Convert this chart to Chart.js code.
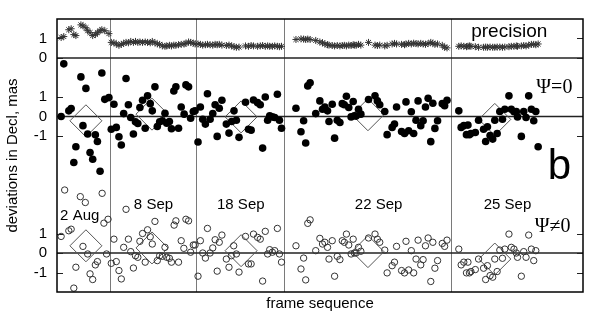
<!DOCTYPE html>
<html>
<head>
<meta charset="utf-8">
<script src="https://cdn.jsdelivr.net/npm/chart.js@4.4.1/dist/chart.umd.min.js"></script>
<style>
  html, body { margin: 0; padding: 0; background: #fff; }
  #wrap { width: 600px; height: 314px; }
</style>
</head>
<body>
<div id="wrap"><canvas id="devChart" width="600" height="314"></canvas></div>
<script>
// nights
var nightNames = ['2 Aug', '8 Sep', '18 Sep', '22 Sep', '25 Sep'];
var nightBreaks = [17.8, 47.0, 77.0, 133.7];

// frames of the Psi=0 solution (precision uses the same frames)
var framesAug2 = [1.4, 2.3, 4.0, 4.8, 5.7, 6.4, 8.1, 8.8, 9.8, 10.4, 11.2, 12.1, 13.0, 13.7, 14.6, 15.2, 16.2, 17.6];
var framesSep8 = [18.4, 19.3, 20.1, 21.0, 21.8, 22.6, 23.4, 24.2, 25.0, 25.9, 26.6, 27.4, 28.1, 29.0, 29.9, 30.7, 31.6, 32.3, 33.2, 34.0, 34.8, 35.7, 36.6, 37.2, 38.1, 38.8, 39.6, 40.3, 41.2, 42.1, 43.1, 43.7, 44.6, 45.3, 46.2, 46.8];
var framesSep18 = [47.8, 48.6, 49.4, 50.3, 51.0, 51.9, 52.8, 53.6, 54.3, 55.0, 55.9, 57.4, 58.3, 59.2, 60.0, 60.8, 61.7, 63.9, 64.9, 65.8, 66.6, 68.0, 68.9, 69.7, 70.6, 71.4, 72.1, 73.0, 73.8, 74.7, 75.4, 76.1];
var framesSep22 = [81.0, 82.7, 83.6, 84.3, 85.0, 85.8, 87.7, 89.1, 90.0, 90.8, 91.7, 92.2, 93.3, 94.1, 95.0, 95.9, 96.7, 97.4, 98.1, 98.9, 99.7, 100.4, 100.8, 101.4, 102.2, 103.0, 105.6, 107.8, 108.6, 109.4, 111.1, 111.9, 113.6, 114.4, 115.1, 116.8, 117.8, 118.3, 119.2, 120.1, 120.9, 121.7, 122.4, 123.3, 124.1, 124.9, 125.8, 126.7, 127.4, 128.1, 129.0, 130.6, 131.4, 132.2];
var framesSep25 = [136.2, 137.0, 137.9, 138.8, 139.3, 139.8, 140.3, 141.8, 142.9, 144.6, 145.3, 145.9, 146.8, 147.7, 148.4, 149.2, 150.1, 151.0, 151.8, 153.2, 154.0, 154.9, 155.7, 156.1, 157.4, 158.2, 159.0, 159.9, 160.8, 161.6, 162.3, 163.1];

// precision, mas
var precAug2 = [1.05, 1.10, 1.45, 1.50, 1.20, 1.15, 1.70, 1.65, 1.55, 1.40, 1.30, 1.15, 1.20, 1.30, 1.40, 1.45, 1.40, 1.25];
var precSep8 = [0.80, 0.78, 0.72, 0.65, 0.70, 0.75, 0.80, 0.78, 0.85, 0.80, 0.85, 0.80, 0.82, 0.80, 0.82, 0.80, 0.78, 0.85, 0.78, 0.72, 0.70, 0.62, 0.60, 0.62, 0.65, 0.62, 0.66, 0.65, 0.68, 0.70, 0.72, 0.75, 0.82, 0.80, 0.76, 0.72];
var precSep18 = [0.72, 0.70, 0.66, 0.68, 0.70, 0.68, 0.66, 0.70, 0.68, 0.70, 0.66, 0.64, 0.66, 0.62, 0.58, 0.55, 0.56, 0.62, 0.60, 0.64, 0.62, 0.60, 0.62, 0.64, 0.60, 0.62, 0.60, 0.60, 0.62, 0.60, 0.58, 0.60];
var precSep22 = [0.95, 0.98, 0.97, 0.95, 0.97, 0.95, 0.90, 0.82, 0.78, 0.72, 0.68, 0.66, 0.64, 0.62, 0.64, 0.62, 0.64, 0.65, 0.62, 0.66, 0.64, 0.68, 0.66, 0.65, 0.70, 0.66, 0.80, 0.66, 0.64, 0.66, 0.62, 0.65, 0.72, 0.75, 0.72, 0.70, 0.68, 0.72, 0.75, 0.72, 0.76, 0.74, 0.72, 0.75, 0.72, 0.70, 0.74, 0.80, 0.76, 0.70, 0.72, 0.65, 0.55, 0.52];
var precSep25 = [0.60, 0.62, 0.60, 0.58, 0.60, 0.62, 0.60, 0.58, 0.55, 0.55, 0.56, 0.55, 0.56, 0.55, 0.55, 0.56, 0.56, 0.55, 0.56, 0.58, 0.60, 0.60, 0.62, 0.60, 0.62, 0.64, 0.62, 0.66, 0.70, 0.70, 0.68, 0.72];

// deviations, Psi=0
var psi0Aug2 = [0.00, 2.70, 0.29, 0.41, -2.36, -1.55, 2.03, -0.47, 1.44, -0.90, -1.85, -2.19, -0.94, -1.28, -2.81, 2.23, 0.88, 0.97];
var psi0Sep8 = [-0.65, 0.63, -0.56, -1.04, -1.46, 0.15, 1.95, 0.60, -0.05, -0.90, -0.27, -0.36, 0.46, 0.83, -0.60, 1.06, 0.66, 0.29, 1.52, -0.51, -0.27, -0.22, 0.17, -0.34, -0.26, -0.63, 1.31, 1.52, -0.60, 0.49, 0.12, 1.62, 1.52, -0.09, 0.26, 0.29];
var psi0Sep18 = [-1.31, 0.49, -0.14, -0.39, 1.17, -0.14, 0.15, 0.60, -1.02, 0.42, 0.83, -0.39, -0.85, -0.26, 0.29, -0.19, -1.07, 0.73, -0.65, -0.70, 0.85, 0.71, 0.60, -1.62, 1.00, -0.19, 0.04, -0.02, -0.05, 1.14, -0.19, -0.60];
var psi0Sep22 = [0.42, -0.78, -0.22, -1.36, 1.57, 1.73, 0.15, 0.80, 0.37, 0.49, 0.29, -0.26, 0.63, -1.11, -0.19, -0.31, 0.66, 0.60, 1.04, 0.46, -0.02, 0.77, 0.04, 0.02, 0.37, 0.12, 0.87, 1.06, 0.80, 0.60, 0.26, -0.93, -0.56, -0.39, 0.49, -0.77, -0.87, 0.75, -0.73, 0.24, -0.87, -0.19, 0.80, -0.47, -0.22, 0.49, 0.93, -1.29, 0.68, -0.61, -0.22, 0.66, 0.55, 0.83];
var psi0Sep25 = [0.29, -0.56, -0.47, -0.93, -0.44, -0.93, -0.87, -0.82, -0.19, -0.65, -1.28, -0.53, -0.98, -1.16, -0.19, -0.87, 0.26, -0.14, 0.37, 1.06, 0.37, 0.24, 0.26, -0.02, -1.02, 0.26, -0.05, 1.06, 0.37, -0.22, 0.26, -1.55];

// frames and deviations, Psi!=0
var framesNAug2 = [1.4, 2.6, 4.0, 4.8, 5.7, 6.4, 7.9, 8.8, 9.6, 10.4, 11.2, 12.1, 13.0, 13.7, 15.3, 15.9, 16.8, 17.3];
var framesNSep8 = [18.4, 19.3, 20.1, 21.0, 21.8, 22.6, 23.4, 24.2, 25.0, 25.9, 26.6, 27.4, 28.1, 29.0, 29.9, 30.7, 31.6, 32.3, 33.2, 34.0, 34.8, 35.7, 36.6, 37.2, 38.1, 38.8, 39.7, 40.3, 41.2, 42.1, 43.0, 43.7, 44.6, 45.3, 46.2, 46.8];
var framesNSep18 = [47.8, 48.6, 49.4, 50.3, 51.0, 51.9, 52.8, 53.6, 54.3, 55.0, 55.9, 57.4, 58.3, 59.1, 59.9, 60.8, 61.7, 63.9, 64.9, 65.8, 66.6, 68.0, 68.9, 69.7, 70.6, 71.4, 72.1, 73.0, 73.8, 74.7, 75.4, 76.1];
var framesNSep25 = [136.2, 137.0, 137.9, 138.8, 139.3, 139.8, 140.3, 141.8, 142.9, 144.6, 145.3, 145.9, 146.8, 147.7, 148.4, 149.2, 150.1, 151.0, 151.8, 153.2, 154.0, 154.9, 155.7, 156.1, 157.4, 158.2, 159.0, 159.9, 160.8, 161.6, 162.3];
var psiNAug2 = [0.85, 3.23, 1.14, 1.22, -1.80, -0.73, 2.89, 0.34, 2.59, -0.05, -1.07, -1.36, -0.61, -0.44, 3.06, 1.53, -0.05, 1.73];
var psiNSep8 = [-0.53, 0.71, -0.44, -0.90, -1.33, 0.29, 2.24, 0.71, 0.07, -0.77, -0.14, -0.22, 0.60, 1.00, -0.47, 1.19, 0.83, 0.46, 1.62, -0.39, -0.14, -0.17, 0.29, -0.22, -0.27, -0.47, 1.43, 1.65, -0.47, 0.63, 0.24, 1.73, 1.65, 0.04, 0.41, 0.41];
var psiNSep18 = [-1.19, 0.63, 0.00, -0.26, 1.26, 0.00, 0.26, 0.68, -0.93, 0.55, 0.92, -0.31, -0.73, -0.14, 0.37, -0.05, -0.98, 0.85, -0.56, -0.56, 0.97, 0.80, 0.71, -1.44, 1.11, -0.05, 0.17, 0.04, 0.12, 1.26, -0.05, -0.47];
var psiNSep22 = [0.37, -0.82, -0.26, -1.38, 1.52, 1.70, 0.12, 0.75, 0.46, 0.55, 0.29, -0.31, 0.63, -1.19, -0.17, -0.34, 0.63, 0.55, 0.97, 0.41, -0.05, 0.71, 0.00, 0.00, 0.29, 0.09, 0.77, 0.97, 0.71, 0.55, 0.15, -1.02, -0.65, -0.47, 0.34, -0.90, -1.02, 0.60, -0.87, 0.12, -1.02, -0.31, 0.66, -0.61, -0.34, 0.37, 0.77, -1.46, 0.55, -0.78, -0.39, 0.49, 0.34, 0.66];
var psiNSep25 = [0.20, -0.61, -0.47, -1.02, -0.47, -1.02, -0.95, -0.85, -0.31, -0.78, -1.36, -0.65, -1.16, -1.24, -0.31, -0.95, 0.15, -0.27, 0.20, 0.97, 0.29, 0.20, 0.00, -0.22, -1.19, 0.07, -0.22, 0.92, 0.20, -0.39, 0.12];

// nightly means (diamonds)
var meanFrames = [9.8, 32.2, 62.4, 105.4, 148.4];
var meanPsi0 = [-0.22, 0.12, -0.02, 0.09, -0.15];
var meanPsiN = [0.37, 0.26, 0.12, 0.07, -0.31];

// tick labels
var precTicks = [0, 1];
var devTicks = [-1, 0, 1];

// where each panel's zero sits on the shared y axis (0..14)
var ZERO_PREC = 12, ZERO_PSI0 = 9, ZERO_PSIN = 2;
var SANS = 'Liberation Sans, Arial, Helvetica, sans-serif';
var SERIF = 'Liberation Serif, Times New Roman, serif';

var framesPsi0 = [].concat(framesAug2, framesSep8, framesSep18, framesSep22, framesSep25);
var precision = [].concat(precAug2, precSep8, precSep18, precSep22, precSep25);
var devPsi0 = [].concat(psi0Aug2, psi0Sep8, psi0Sep18, psi0Sep22, psi0Sep25);
var framesPsiN = [].concat(framesNAug2, framesNSep8, framesNSep18, framesSep22, framesNSep25);
var devPsiN = [].concat(psiNAug2, psiNSep8, psiNSep18, psiNSep22, psiNSep25);

function shift(xs, ys, zero) {
	return xs.map(function(x, i) { return {x: x, y: ys[i] + zero}; });
}

var yTicks = [];
devTicks.forEach(function(t) { yTicks.push({value: t + ZERO_PSIN, label: String(t)}); });
devTicks.forEach(function(t) { yTicks.push({value: t + ZERO_PSI0, label: String(t)}); });
precTicks.forEach(function(t) { yTicks.push({value: t + ZERO_PREC, label: String(t)}); });
function tickLabel(v) {
	for (var i = 0; i < yTicks.length; i++) {
		if (Math.abs(yTicks[i].value - v) < 1e-6) return yTicks[i].label;
	}
	return '';
}

var decor = {
	id: 'decor',
	beforeDatasetsDraw: function(chart) {
		var ctx = chart.ctx, a = chart.chartArea, x = chart.scales.x, y = chart.scales.y;
		ctx.save();
		ctx.strokeStyle = '#7a7a7a';
		ctx.lineWidth = 1;
		nightBreaks.forEach(function(f) {
			var px = Math.round(x.getPixelForValue(f)) + 0.5;
			ctx.beginPath(); ctx.moveTo(px, a.top); ctx.lineTo(px, a.bottom); ctx.stroke();
		});
		ctx.strokeStyle = '#222';
		ctx.lineWidth = 1.5;
		[ZERO_PREC, ZERO_PSI0, ZERO_PSIN].forEach(function(v) {
			var py = y.getPixelForValue(v);
			ctx.beginPath(); ctx.moveTo(a.left, py); ctx.lineTo(a.right, py); ctx.stroke();
		});
		ctx.lineWidth = 1;
		ctx.strokeStyle = '#222';
		yTicks.forEach(function(t) {
			var py = Math.round(y.getPixelForValue(t.value)) + 0.5;
			ctx.beginPath();
			ctx.moveTo(a.left, py); ctx.lineTo(a.left + 6, py);
			ctx.moveTo(a.right, py); ctx.lineTo(a.right - 6, py);
			ctx.stroke();
		});
		ctx.restore();
	},
	afterDraw: function(chart) {
		var ctx = chart.ctx, a = chart.chartArea, x = chart.scales.x, y = chart.scales.y;
		ctx.save();
		ctx.strokeStyle = '#000';
		ctx.lineWidth = 1.5;
		ctx.strokeRect(a.left, a.top, a.right - a.left, a.bottom - a.top);

		ctx.fillStyle = '#000';
		ctx.textAlign = 'center';
		ctx.textBaseline = 'middle';
		// night names
		var nameFrames = [7.7, 32.7, 62.3, 109.0, 152.7];
		var nameLevels = [3.92, 4.48, 4.48, 4.48, 4.48];
		ctx.font = '15px ' + SANS;
		nightNames.forEach(function(n, i) {
			ctx.fillText(n, x.getPixelForValue(nameFrames[i]), y.getPixelForValue(nameLevels[i]));
		});
		ctx.font = '19px ' + SANS;
		ctx.fillText('precision', x.getPixelForValue(153.3), y.getPixelForValue(13.35));
		ctx.font = '20px ' + SERIF;
		ctx.fillText('\u03A8=0', x.getPixelForValue(168.6), y.getPixelForValue(10.49));
		ctx.fillText('\u03A8\u22600', x.getPixelForValue(168.0), y.getPixelForValue(3.36));
		ctx.font = '42px ' + SANS;
		ctx.textBaseline = 'alphabetic';
		ctx.fillText('b', x.getPixelForValue(170.3), y.getPixelForValue(5.8));
		ctx.restore();
	}
};

var ctx = document.getElementById('devChart').getContext('2d');
var devChart = new Chart(ctx, {
	type: 'scatter',
	data: {
		datasets: [
			{
				label: 'precision',
				data: shift(framesPsi0, precision, ZERO_PREC),
				pointStyle: 'star',
				radius: 3.5,
				borderWidth: 1,
				borderColor: '#333',
				backgroundColor: '#333',
				order: 2
			},
			{
				label: 'Psi=0',
				data: shift(framesPsi0, devPsi0, ZERO_PSI0),
				pointStyle: 'circle',
				radius: 3.8,
				borderWidth: 0,
				backgroundColor: '#000',
				order: 1
			},
			{
				label: 'Psi!=0',
				data: shift(framesPsiN, devPsiN, ZERO_PSIN),
				pointStyle: 'circle',
				radius: 3.2,
				borderWidth: 1,
				borderColor: '#333',
				backgroundColor: 'rgba(0,0,0,0)',
				order: 1
			},
			{
				label: 'mean Psi=0',
				data: shift(meanFrames, meanPsi0, ZERO_PSI0),
				pointStyle: 'rectRot',
				radius: 16,
				borderWidth: 1,
				borderColor: '#555',
				backgroundColor: 'rgba(0,0,0,0)',
				order: 5
			},
			{
				label: 'mean Psi!=0',
				data: shift(meanFrames, meanPsiN, ZERO_PSIN),
				pointStyle: 'rectRot',
				radius: 16,
				borderWidth: 1,
				borderColor: '#555',
				backgroundColor: 'rgba(0,0,0,0)',
				order: 5
			}
		]
	},
	options: {
		responsive: false,
		animation: false,
		events: [],
		layout: { padding: { top: 17, right: 8, bottom: 0, left: 0 } },
		plugins: { legend: { display: false }, tooltip: { enabled: false } },
		scales: {
			x: {
				type: 'linear',
				min: 0,
				max: 178.3,
				ticks: { display: false },
				grid: { display: false, drawTicks: false },
				border: { display: false },
				title: { display: true, text: 'frame sequence', color: '#000', font: { family: SANS, size: 15 }, padding: { top: 2, bottom: 1 } },
				afterFit: function(s) { s.height = 22; }
			},
			y: {
				type: 'linear',
				min: 0,
				max: 14,
				afterBuildTicks: function(s) { s.ticks = yTicks.map(function(t) { return {value: t.value}; }); },
				ticks: {
					autoSkip: false,
					padding: 10,
					color: '#000',
					font: { family: SANS, size: 15 },
					callback: function(v) { return tickLabel(v); }
				},
				grid: { display: false, drawTicks: false },
				border: { display: false },
				title: { display: true, text: 'deviations in Decl, mas', color: '#000', font: { family: SANS, size: 15 }, padding: { top: 4, bottom: 0 } },
				afterFit: function(s) { s.width = 57; }
			}
		}
	},
	plugins: [decor]
});
</script>
</body>
</html>
